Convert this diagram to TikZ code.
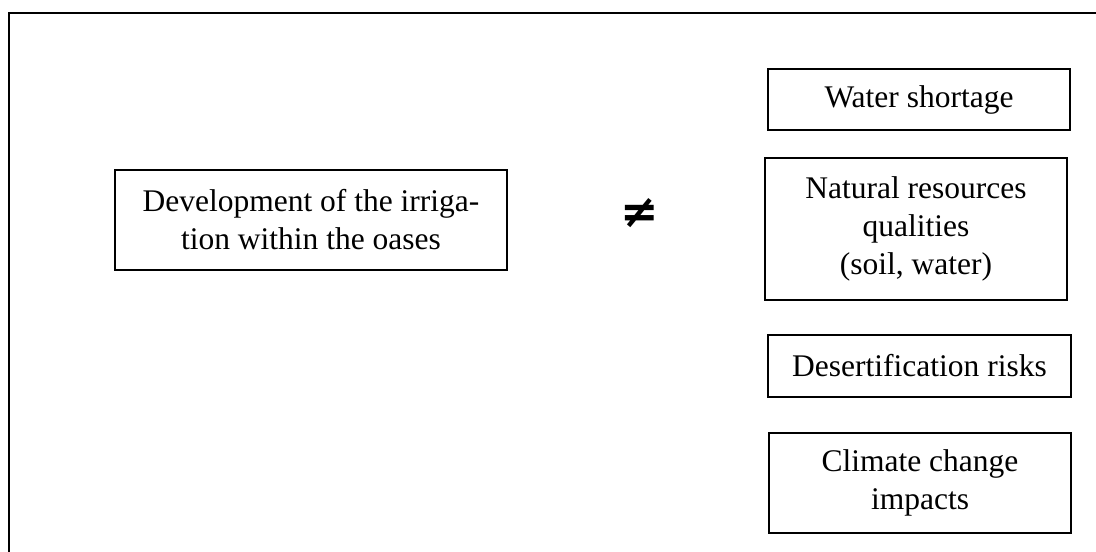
\documentclass[tikz,border=0pt]{standalone}
\usepackage{fontspec}
\setmainfont{Liberation Serif}
\newfontfamily\symfont{DejaVu Sans}
\begin{document}
\begin{tikzpicture}[x=1pt,y=-1pt,
  box/.style={draw,line width=1.5pt,align=center,inner sep=0pt,
    font=\fontsize{31.5}{38}\selectfont},
  neq/.style={font=\symfont\bfseries\fontsize{46}{46}\selectfont,inner sep=0pt}]
\useasboundingbox (0,0) rectangle (1096,552);
\clip (0,0) rectangle (1096,552);
\draw[line width=2pt] (9,560) -- (9,13) -- (1110,13);
\node[box,minimum width=392pt,minimum height=100pt] (dev) at (311,220)
  {Development of the irriga-\\tion within the oases};
\node[neq] (ne) at (640,213) {≠};
\node[box,minimum width=302pt,minimum height=61pt] (water) at (919,99.5) {Water shortage};
\node[box,minimum width=302pt,minimum height=142pt] (nat) at (916,229)
  {Natural resources\\qualities\\(soil, water)};
\node[box,minimum width=303pt,minimum height=62pt] (des) at (919.5,366) {Desertification risks};
\node[box,minimum width=302pt,minimum height=100pt] (clim) at (920,483)
  {Climate change\\impacts};
\end{tikzpicture}
\end{document}
